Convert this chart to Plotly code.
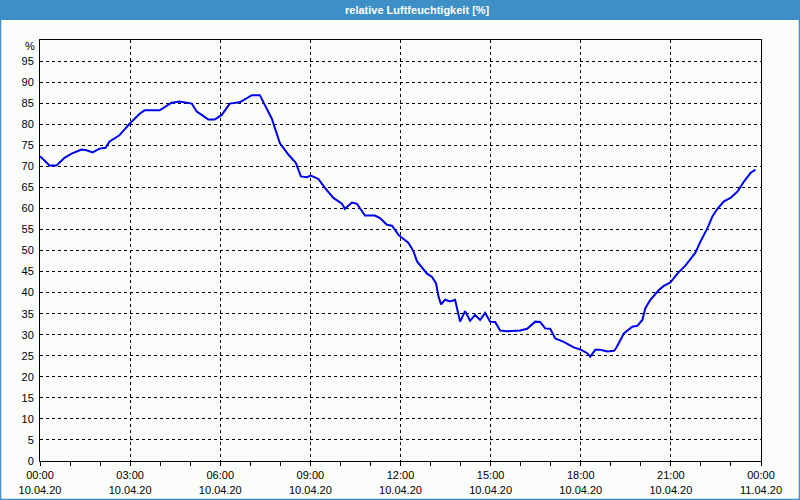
import plotly.graph_objects as go
import pandas as pd

# time in minutes after 10.04.20 00:00, relative humidity in %
minutes = [0, 19, 33, 49, 63, 83, 93, 105, 119, 131, 139, 158, 179, 199, 209, 239, 263, 279, 303, 313,
           323, 336, 349, 363, 379, 399, 423, 439, 463, 479, 496, 511, 521, 533, 541, 556, 569, 586, 603, 609,
           623, 633, 649, 669, 679, 693, 703, 716, 736, 746, 753, 765, 773, 783, 791, 796, 801, 809, 819, 829,
           839, 849, 859, 869, 879, 889, 899, 909, 919, 933, 959, 973, 989, 999, 1009, 1019, 1029, 1046, 1066, 1079,
           1093, 1099, 1109, 1119, 1133, 1146, 1149, 1159, 1166, 1183, 1193, 1203, 1209, 1219, 1236, 1246, 1259, 1273, 1289, 1309,
           1319, 1333, 1343, 1353, 1366, 1379, 1393, 1406, 1419, 1429]
humidity = [72.4, 70.2, 70.2, 72.0, 73.0, 74.0, 73.8, 73.3, 74.2, 74.4, 75.9, 77.3, 80.1, 82.5, 83.3, 83.3, 85.1, 85.4, 84.9, 83.0,
            82.2, 81.1, 81.1, 82.2, 84.9, 85.2, 86.9, 86.9, 81.3, 75.5, 72.8, 70.8, 67.6, 67.4, 67.8, 67.0, 64.9, 62.5, 61.1, 59.9,
            61.4, 61.1, 58.3, 58.3, 57.7, 56.1, 55.9, 53.7, 51.8, 49.8, 47.4, 45.8, 44.5, 43.7, 42.2, 39.0, 37.2, 38.3, 37.9, 38.3,
            33.1, 35.6, 33.3, 34.7, 33.5, 35.2, 33.1, 33.0, 31.0, 30.8, 31.0, 31.4, 33.1, 33.0, 31.5, 31.4, 29.1, 28.3, 27.0, 26.5,
            25.6, 24.8, 26.4, 26.4, 26.0, 26.2, 26.5, 28.7, 30.3, 31.9, 32.1, 33.5, 36.3, 38.3, 40.6, 41.6, 42.4, 44.5, 46.4, 49.5,
            52.1, 55.3, 58.1, 59.9, 61.7, 62.5, 64.0, 66.4, 68.4, 69.2]

start = pd.Timestamp("2020-04-10 00:00")
times = [start + pd.Timedelta(minutes=m) for m in minutes]

tick_hours = [0, 3, 6, 9, 12, 15, 18, 21, 24]
tick_text = ["00:00<br>10.04.20", "03:00<br>10.04.20", "06:00<br>10.04.20", "09:00<br>10.04.20",
             "12:00<br>10.04.20", "15:00<br>10.04.20", "18:00<br>10.04.20", "21:00<br>10.04.20",
             "00:00<br>11.04.20"]
tick_vals = [start + pd.Timedelta(hours=h) for h in tick_hours]
y_ticks = list(range(0, 100, 5))

W, H = 800, 500
ML, MR, MT, MB = 40, 39, 40, 39
PW, PH = W - ML - MR, H - MT - MB

def px(x):
    return (x - ML) / PW

def py(y):
    return 1 - (y - MT) / PH

BLUE = "#3d8fc6"
BG = "#fbfdfb"
FONT = "Liberation Sans"

fig = go.Figure()
fig.add_trace(go.Scatter(x=times, y=humidity, mode="lines",
                         line=dict(color="#0000ee", width=2), showlegend=False))

fig.update_layout(
    width=W, height=H, autosize=False,
    margin=dict(l=ML, r=MR, t=MT, b=MB),
    paper_bgcolor=BG, plot_bgcolor=BG,
    font=dict(family=FONT, size=11, color="black"),
    xaxis=dict(
        type="date", automargin=False,
        range=[start, start + pd.Timedelta(hours=24)],
        tickmode="array", tickvals=tick_vals, ticktext=tick_text,
        ticks="outside", ticklen=4, tickcolor="black", tickwidth=1,
        showgrid=True, gridcolor="black", griddash="3px,3px", gridwidth=1,
        showline=True, linecolor="black", linewidth=1, mirror=True,
        minor=dict(tick0=start, dtick=3600000, ticks="outside", ticklen=4,
                   tickcolor="black", showgrid=False),
        zeroline=False, fixedrange=True,
    ),
    yaxis=dict(
        range=[0, 100], automargin=False,
        tickmode="array", tickvals=y_ticks, ticktext=[str(v) for v in y_ticks],
        ticks="", ticklabelstandoff=3,
        showgrid=True, gridcolor="black", griddash="3px,3px", gridwidth=1,
        showline=True, linecolor="black", linewidth=1, mirror=True,
        zeroline=False, fixedrange=True,
    ),
    shapes=[
        dict(type="rect", xref="paper", yref="paper",
             x0=px(0), x1=px(W), y0=py(0), y1=py(20),
             fillcolor=BLUE, line=dict(width=0), layer="above"),
        dict(type="rect", xref="paper", yref="paper",
             x0=px(0.5), x1=px(W - 0.5), y0=py(0.5), y1=py(H - 0.5),
             fillcolor="rgba(0,0,0,0)", line=dict(color=BLUE, width=1.5), layer="above"),
    ],
    annotations=[
        dict(text="<b>relative Luftfeuchtigkeit [%]</b>", xref="paper", yref="paper",
             x=px(417), y=py(10), xanchor="center", yanchor="middle", showarrow=False,
             font=dict(family=FONT, size=11, color="white")),
        dict(text="%", xref="paper", yref="paper",
             x=px(37), y=py(46), xanchor="right", yanchor="middle", showarrow=False,
             font=dict(family=FONT, size=11, color="black")),
    ],
)

fig.write_html("out.html", config={"displayModeBar": False, "responsive": False},
               post_script="document.body.style.margin='0';document.body.style.overflow='hidden';")
